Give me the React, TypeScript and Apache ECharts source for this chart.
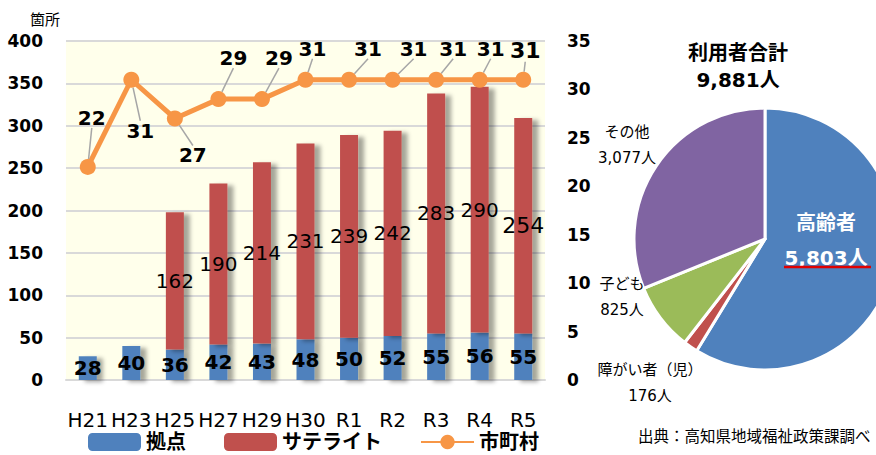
import React, { useEffect, useRef } from "react";
import * as echarts from "echarts";

const categories = ["H21", "H23", "H25", "H27", "H29", "H30", "R1", "R2", "R3", "R4", "R5"];
const kyoten = [28, 40, 36, 42, 43, 48, 50, 52, 55, 56, 55];
const satellite = [0, 0, 162, 190, 214, 231, 239, 242, 283, 290, 254];
const municipalities = [22, 31, 27, 29, 29, 31, 31, 31, 31, 31, 31];
const leftTicks = { min: 0, max: 400, interval: 50 };
const rightTicks = { min: 0, max: 35, interval: 5 };

const pieNames = ["高齢者", "障がい者（児）", "子ども", "その他"];
const pieValues = [5803, 176, 825, 3077];
const pieColors = ["#4F81BD", "#C0504D", "#9BBB59", "#8064A2"];
const pieTitle = "利用者合計\n9,881人";
const sourceText = "出典：高知県地域福祉政策課調べ";

// label offsets (style only)
const lineLabelOffsets = [
  [4, -49], [9, 51], [18, 37], [15, -41], [17, -41], [7, -31],
  [19, -31], [21, -31], [17, -31], [11, -31], [2, -29],
];
const pieLabelPos = [
  { x: 826, y: 240, align: "center" },
  { x: 650, y: 383, align: "center" },
  { x: 622, y: 297, align: "center" },
  { x: 627, y: 145, align: "center" },
];

const FONT = "'DejaVu Sans', 'Noto Sans CJK JP', sans-serif";

export default function App() {
  const ref = useRef<HTMLDivElement>(null);
  useEffect(() => {
    if (!ref.current) return;
    const chart = echarts.init(ref.current, null, { renderer: "svg" });
    const fmt = (n: number) => n.toLocaleString("en-US");
    chart.setOption({
      animation: false,
      textStyle: { fontFamily: FONT },
      grid: {
        left: 66, right: 331, top: 41, bottom: 75,
        show: true, backgroundColor: "#FFFFEB", borderWidth: 0,
      },
      legend: {
        left: 83, top: 427,
        itemWidth: 53, itemHeight: 18, itemGap: 38,
        textStyle: { fontSize: 20, lineHeight: 20, fontWeight: "bold", color: "#000", fontFamily: FONT },
        data: ["拠点", "サテライト", "市町村"],
      },
      xAxis: {
        type: "category",
        data: categories,
        axisTick: { show: false },
        axisLine: { lineStyle: { color: "#D9D9D9", width: 2 } },
        axisLabel: { fontSize: 20, color: "#000", margin: 30, interval: 0, fontFamily: FONT },
      },
      yAxis: [
        {
          type: "value", ...leftTicks,
          name: "箇所",
          nameLocation: "end",
          nameGap: 14,
          nameTextStyle: { fontSize: 15, color: "#000", align: "right", padding: [0, 6, 0, 0], fontFamily: FONT },
          axisLine: { show: false },
          axisTick: { show: false },
          axisLabel: { fontSize: 17, fontWeight: "bold", color: "#000", margin: 23, fontFamily: FONT },
          splitLine: { lineStyle: { color: "#D9D9D9", width: 2 } },
        },
        {
          type: "value", ...rightTicks,
          position: "right",
          axisLine: { show: false },
          axisTick: { show: false },
          splitLine: { show: false },
          axisLabel: { fontSize: 17, fontWeight: "bold", color: "#000", margin: 22, fontFamily: FONT },
        },
      ],
      series: [
        {
          name: "拠点",
          type: "bar",
          stack: "total",
          barWidth: 18,
          data: kyoten,
          itemStyle: {
            color: "#4F81BD",
            shadowColor: "rgba(0,0,0,0.35)", shadowBlur: 4, shadowOffsetX: 6, shadowOffsetY: 2,
          },
          label: {
            show: true, position: "inside", fontSize: 20, fontWeight: "bold", color: "#000", fontFamily: FONT,
          },
          z: 2,
        },
        {
          name: "サテライト",
          type: "bar",
          stack: "total",
          barWidth: 18,
          data: satellite.map((v, i) => ({
            value: v,
            label: i === satellite.length - 1 ? { fontSize: 22 } : undefined,
          })),
          itemStyle: {
            color: "#C0504D",
            shadowColor: "rgba(0,0,0,0.35)", shadowBlur: 4, shadowOffsetX: 6, shadowOffsetY: 2,
          },
          label: {
            show: true, position: "inside", fontSize: 20, color: "#000", fontFamily: FONT,
            formatter: (p: any) => (p.value ? String(p.value) : ""),
          },
          z: 2,
        },
        {
          name: "市町村",
          type: "line",
          yAxisIndex: 1,
          data: municipalities.map((v, i) => ({
            value: v,
            label: i === municipalities.length - 1 ? { fontSize: 22 } : undefined,
          })),
          symbol: "circle",
          symbolSize: 16,
          lineStyle: { color: "#F79646", width: 5 },
          itemStyle: { color: "#F79646" },
          label: {
            show: true, position: "inside", fontSize: 20, fontWeight: "bold", color: "#000", fontFamily: FONT,
          },
          labelLine: { show: true, lineStyle: { color: "#A6A6A6", width: 1.5 } },
          labelLayout: (p: any) => ({
            dx: lineLabelOffsets[p.dataIndex][0],
            dy: lineLabelOffsets[p.dataIndex][1],
          }),
          z: 5,
        },
        {
          name: "利用者",
          type: "pie",
          center: [765, 239],
          radius: 131,
          startAngle: 90,
          clockwise: true,
          itemStyle: { borderColor: "#fff", borderWidth: 3 },
          labelLine: { show: false },
          data: pieNames.map((n, i) => ({
            name: n,
            value: pieValues[i],
            itemStyle: { color: pieColors[i] },
            label:
              i === 0
                ? { position: "inside", color: "#fff", fontSize: 20, fontWeight: "bold", lineHeight: 35 }
                : { color: "#000", fontSize: 15, lineHeight: 26 },
          })),
          label: {
            show: true,
            position: "outside",
            fontFamily: FONT,
            formatter: (p: any) => `${p.name}\n${fmt(p.value)}人`,
          },
          labelLayout: (p: any) => ({
            x: pieLabelPos[p.dataIndex].x,
            y: pieLabelPos[p.dataIndex].y,
            align: pieLabelPos[p.dataIndex].align,
            verticalAlign: "middle",
          }),
          z: 3,
        },
      ],
      graphic: [
        {
          type: "text",
          x: 738, y: 66,
          style: {
            text: pieTitle, textAlign: "center", textVerticalAlign: "middle",
            font: `bold 20px ${FONT}`, lineHeight: 27, fill: "#000",
          },
        },
        {
          type: "line",
          shape: { x1: 784, y1: 267, x2: 871, y2: 267 },
          style: { stroke: "#E00000", lineWidth: 2.5 },
          z: 10,
        },
        {
          type: "text",
          x: 638, y: 437,
          style: {
            text: sourceText, textVerticalAlign: "middle",
            font: `15.5px ${FONT}`, fill: "#000",
          },
        },
      ],
    });
    return () => chart.dispose();
  }, []);
  return (
    <div
      ref={ref}
      style={{ position: "fixed", left: 0, top: 0, width: 876, height: 455, background: "#fff" }}
    />
  );
}
